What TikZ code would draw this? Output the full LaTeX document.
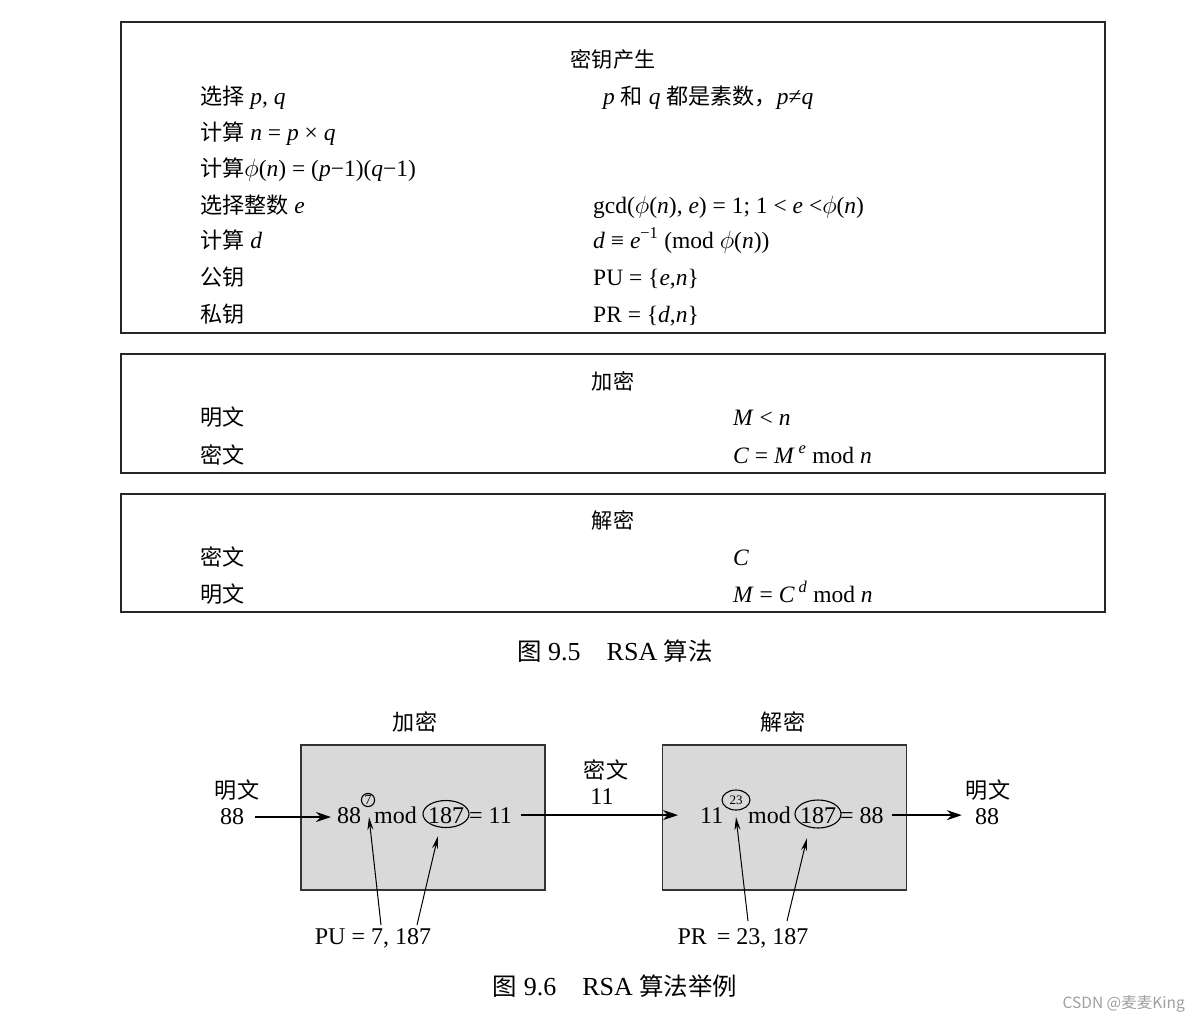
\documentclass[tikz,border=0pt]{standalone}
\usepackage{fontspec}
\setmainfont{Liberation Serif}
\newfontfamily\cjk[Scale=0.94]{Noto Sans CJK SC}
\newfontfamily\wmfont{Noto Sans CJK SC}
\newcommand\zh[1]{{\cjk #1}}
\newcommand\ph{$\phi$}
\usetikzlibrary{arrows.meta,shapes.geometric,calc}
\begin{document}
\begin{tikzpicture}[x=1pt,y=-1pt,
  panel/.style={draw=black!85,line width=2.4pt,minimum width=984pt,inner sep=0pt},
  ttl/.style={inner sep=0pt,font=\fontsize{22.5}{26}\selectfont},
  row/.style={anchor=base west,inner sep=0pt,font=\fontsize{23.5}{27}\selectfont},
  gbox/.style={draw=black!80,line width=1.3pt,fill=gray!30,minimum width=244pt,minimum height=145pt,inner sep=0pt},
  ex/.style={anchor=base west,inner sep=0pt,font=\fontsize{24}{28}\selectfont},
  lab/.style={inner sep=0pt,font=\fontsize{23.5}{27}\selectfont},
  ring/.style={draw,line width=1.1pt,ellipse,inner sep=0pt},
  bigarr/.style={line width=1.8pt,-{Stealth[length=15pt,width=10pt]}},
  ptr/.style={line width=1pt,-{Stealth[length=13pt,width=6pt]}},
  figcap/.style={inner sep=0pt,font=\fontsize{26}{30}\selectfont},
]
\path[use as bounding box,fill=white] (0,0) rectangle (1200,1023);

% ---------- Key generation panel ----------
\node[panel,minimum height=311pt] (kg) at (613,177.5) {};
\node[ttl] (kgt) at (613,59) {\zh{密钥产生}};
\node[row] (r1) at (200,104) {\zh{选择} \textit{p}, \textit{q}};
\node[row] (r2) at (200,140) {\zh{计算} \textit{n} = \textit{p} × \textit{q}};
\node[row] (r3) at (200,176) {\zh{计算}\ph(\textit{n}) = (\textit{p}−1)(\textit{q}−1)};
\node[row] (r4) at (200,213) {\zh{选择整数} \textit{e}};
\node[row] (r5) at (200,248) {\zh{计算} \textit{d}};
\node[row] (r6) at (200,285) {\zh{公钥}};
\node[row] (r7) at (200,322) {\zh{私钥}};
\node[row] (q1) at (603,104) {\textit{p} \zh{和} \textit{q} \zh{都是素数，}\textit{p}≠\textit{q}};
\node[row] (q4) at (593,213) {gcd(\ph(\textit{n}), \textit{e}) = 1; 1 < \textit{e} <\ph(\textit{n})};
\node[row] (q5) at (593,248) {\textit{d} ≡ \textit{e}\textsuperscript{−1} (mod \ph(\textit{n}))};
\node[row] (q6) at (593,285) {PU = \{\textit{e},\textit{n}\}};
\node[row] (q7) at (593,322) {PR = \{\textit{d},\textit{n}\}};

% ---------- Encryption panel ----------
\node[panel,minimum height=119pt] (encp) at (613,413.5) {};
\node[ttl] (enct) at (613,381) {\zh{加密}};
\node[row] (er1) at (200,425) {\zh{明文}};
\node[row] (er2) at (200,463) {\zh{密文}};
\node[row] (eq1) at (733,425) {\textit{M} < \textit{n}};
\node[row] (eq2) at (733,463) {\textit{C} = \textit{M}\,\textsuperscript{\textit{e}} mod \textit{n}};

% ---------- Decryption panel ----------
\node[panel,minimum height=118pt] (decp) at (613,553) {};
\node[ttl] (dect) at (613,520) {\zh{解密}};
\node[row] (dr1) at (200,565) {\zh{密文}};
\node[row] (dr2) at (200,602) {\zh{明文}};
\node[row] (dq1) at (733,565) {\textit{C}};
\node[row] (dq2) at (733,602) {\textit{M} = \textit{C}\,\textsuperscript{\textit{d}} mod \textit{n}};

\node[figcap] (cap1) at (615,651) {\zh{图} 9.5\quad RSA \zh{算法}};

% ---------- Example ----------
\node[gbox] (boxA) at (423,817.5) {};
\node[gbox] (boxB) at (784.5,817.5) {};
\node[lab] (labA) at (415,722) {\zh{加密}};
\node[lab] (labB) at (783,722) {\zh{解密}};

\node[lab] (inl) at (237,790) {\zh{明文}};
\node[lab,font=\fontsize{24}{28}\selectfont] (in88) at (232,817) {88};

\node[ex] (a88) at (337,823) {88};
\node[ring,circle,inner sep=0.6pt,font=\fontsize{14}{15}\selectfont] (k1) at (368,800) {7};
\node[ex] (amod) at (374,823) {mod};
\node[ex] (a187) at (428,823) {187};
\node[ring,minimum width=46pt,minimum height=27pt] (o1) at (446,814) {};
\node[ex] (aeq) at (469,823) {= 11};

\node[lab] (midl) at (606,770) {\zh{密文}};
\node[lab,font=\fontsize{24}{28}\selectfont] (mid11) at (602,797) {11};

\node[ex] (b11) at (700,823) {11};
\node[ring,minimum width=28pt,minimum height=20pt,font=\fontsize{13}{14}\selectfont] (k2) at (736,800) {23};
\node[ex] (bmod) at (748,823) {mod};
\node[ex] (b187) at (800,823) {187};
\node[ring,minimum width=46pt,minimum height=28pt] (o2) at (818,814) {};
\node[ex] (beq) at (840,823) {= 88};

\node[lab] (outl) at (988,790) {\zh{明文}};
\node[lab,font=\fontsize{24}{28}\selectfont] (out88) at (987,817) {88};

\node[lab,font=\fontsize{24}{28}\selectfont] (pu) at (373,938) {PU = 7, 187};
\node[lab,font=\fontsize{24}{28}\selectfont] (pr) at (743,938) {PR\, = 23, 187};

\coordinate (tA1) at (369,817);
\coordinate (tA2) at (438,836);
\coordinate (tB1) at (736,817);
\coordinate (tB2) at (807,838);
\coordinate (sA1) at (381,925);
\coordinate (sA2) at (417,925);
\coordinate (sB1) at (748,921);
\coordinate (sB2) at (787,921);

\draw[bigarr,shorten <=11pt,shorten >=6pt] (in88.east) -- (in88.east -| a88.west);
\draw[bigarr,shorten <=9pt,shorten >=22pt] (aeq.east) -- (aeq.east -| b11.west);
\draw[bigarr,shorten <=8pt,shorten >=13pt] (beq.east) -- (beq.east -| out88.west);

\draw[ptr] (sA1) -- (tA1);
\draw[ptr] (sA2) -- (tA2);
\draw[ptr] (sB1) -- (tB1);
\draw[ptr] (sB2) -- (tB2);

\node[figcap] (cap2) at (615,986) {\zh{图} 9.6\quad RSA \zh{算法举例}};

\node[anchor=east,inner sep=0pt,text=gray!75,font=\wmfont\fontsize{15.5}{17}\selectfont] (wm) at (1185,1004) {CSDN @麦麦King};
\end{tikzpicture}
\end{document}
